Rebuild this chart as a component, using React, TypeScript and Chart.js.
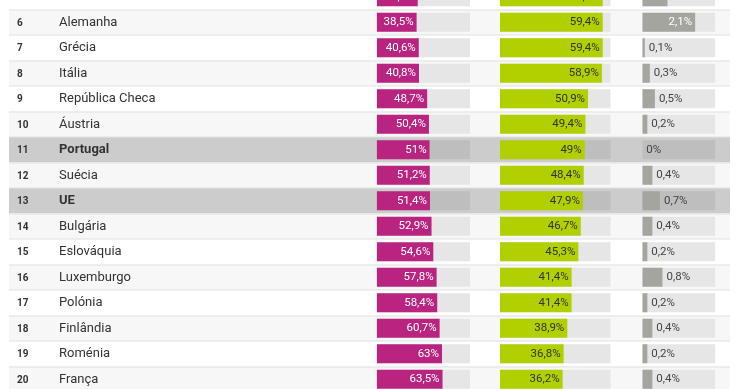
import React, { useEffect, useRef } from "react";
import { Chart, registerables } from "chart.js";
Chart.register(...registerables);

const ranks = [5, 6, 7, 8, 9, 10, 11, 12, 13, 14, 15, 16, 17, 18, 19, 20];
const countries = [
  "Estónia", "Alemanha", "Grécia", "Itália", "República Checa", "Áustria", "Portugal", "Suécia",
  "UE", "Bulgária", "Eslováquia", "Luxemburgo", "Polónia", "Finlândia", "Roménia", "França",
];
const highlighted = ["Portugal", "UE"];
const magentaValues = [39.6, 38.5, 40.6, 40.8, 48.7, 50.4, 51, 51.2, 51.4, 52.9, 54.6, 57.8, 58.4, 60.7, 63, 63.5];
const greenValues = [59.4, 59.4, 59.4, 58.9, 50.9, 49.4, 49, 48.4, 47.9, 46.7, 45.3, 41.4, 41.4, 38.9, 36.8, 36.2];
const grayValues = [1, 2.1, 0.1, 0.3, 0.5, 0.2, 0, 0.4, 0.7, 0.4, 0.2, 0.8, 0.2, 0.4, 0.2, 0.4];
const columnMax = [90, 64, 2.9];

const MAGENTA = "#b8247f";
const GREEN = "#b2d000";
const GRAY = "#a5a5a0";
const TRACK = "#e6e6e6";
const TRACK_HL = "#bebebe";
const FONT = "Roboto, 'Noto Sans', sans-serif";

const fmt = (v: number) => (Number.isInteger(v) ? `${v}%` : `${v.toFixed(1).replace(".", ",")}%`);
const isHL = (i: number) => highlighted.includes(countries[i]);

export default function App() {
  const ref = useRef<HTMLCanvasElement | null>(null);
  useEffect(() => {
    if (!ref.current) return;
    const labels = ranks.map(String);
    const trackColors = countries.map((_, i) => (isHL(i) ? TRACK_HL : TRACK));
    const common = { grouped: false, categoryPercentage: 1, barPercentage: 0.746, borderWidth: 0 };

    const rowPlugin = {
      id: "rows",
      beforeDatasetsDraw(chart: any) {
        const ctx = chart.ctx;
        const ys = chart.scales.y;
        const h = ys.getPixelForValue(1) - ys.getPixelForValue(0);
        ctx.save();
        ranks.forEach((r, i) => {
          const cy = ys.getPixelForValue(i);
          const top = cy - h / 2;
          ctx.fillStyle = isHL(i) ? "#cccccc" : r % 2 === 0 ? "#f7f7f7" : "#ffffff";
          ctx.fillRect(9, top, 721, h);
          ctx.fillStyle = "#e2e2e2";
          ctx.fillRect(9, Math.round(top) - 0.5, 721, 1);
          ctx.fillStyle = "#333333";
          ctx.textBaseline = "middle";
          ctx.textAlign = "left";
          ctx.font = `bold 10px ${FONT}`;
          ctx.fillText(String(r), 17, cy + 1);
          ctx.font = `${isHL(i) ? "bold " : ""}13px ${FONT}`;
          ctx.fillText(countries[i], 59, cy);
        });
        ctx.restore();
      },
    };

    const labelPlugin = {
      id: "valueLabels",
      afterDatasetsDraw(chart: any) {
        const ctx = chart.ctx;
        ctx.save();
        ctx.font = `11.5px ${FONT}`;
        ctx.textBaseline = "middle";
        const sets: [number, number[], string][] = [
          [0, magentaValues, "#ffffff"],
          [1, greenValues, "#333333"],
          [2, grayValues, "#ffffff"],
        ];
        sets.forEach(([di, vals, inColor]) => {
          const meta = chart.getDatasetMeta(di);
          meta.data.forEach((el: any, i: number) => {
            const txt = fmt(vals[i]);
            const w = ctx.measureText(txt).width;
            const barW = el.x - el.base;
            if (barW > w + 8) {
              ctx.fillStyle = inColor;
              ctx.textAlign = "right";
              ctx.fillText(txt, el.x - 3, el.y);
            } else {
              ctx.fillStyle = "#444444";
              ctx.textAlign = "left";
              ctx.fillText(txt, el.x + 4, el.y);
            }
          });
        });
        ctx.restore();
      },
    };

    const xs = (weight: number, max: number) => ({
      type: "linear", axis: "x", position: "bottom", stack: "cols", stackWeight: weight,
      display: false, min: 0, max,
    });

    const chart = new Chart(ref.current, {
      type: "bar",
      data: {
        labels,
        datasets: [
          { data: magentaValues, xAxisID: "xm", backgroundColor: MAGENTA, order: 1, ...common },
          { data: greenValues, xAxisID: "xg", backgroundColor: GREEN, order: 1, ...common },
          { data: grayValues, xAxisID: "xk", backgroundColor: GRAY, order: 1, ...common },
          { data: countries.map(() => columnMax[0]), xAxisID: "xm", backgroundColor: trackColors, order: 2, ...common },
          { data: countries.map(() => columnMax[1]), xAxisID: "xg", backgroundColor: trackColors, order: 2, ...common },
          { data: countries.map(() => columnMax[2]), xAxisID: "xk", backgroundColor: trackColors, order: 2, ...common },
        ],
      } as any,
      options: {
        indexAxis: "y",
        animation: false,
        responsive: false,
        maintainAspectRatio: false,
        layout: { padding: 0 },
        plugins: { legend: { display: false }, tooltip: { enabled: false } },
        scales: {
          y: { type: "category", display: false, offset: true },
          sp0: xs(376.7, 1),
          xm: xs(93.3, columnMax[0]),
          sp1: xs(30, 1),
          xg: xs(110.7, columnMax[1]),
          sp2: xs(31.6, 1),
          xk: xs(73, columnMax[2]),
          sp3: xs(24.7, 1),
        },
      } as any,
      plugins: [rowPlugin, labelPlugin],
    });
    return () => chart.destroy();
  }, []);

  return (
    <div style={{ position: "absolute", left: 0, top: -16, width: 740, height: 408 }}>
      <canvas ref={ref} width={740} height={408} style={{ width: 740, height: 408, display: "block" }} />
    </div>
  );
}
